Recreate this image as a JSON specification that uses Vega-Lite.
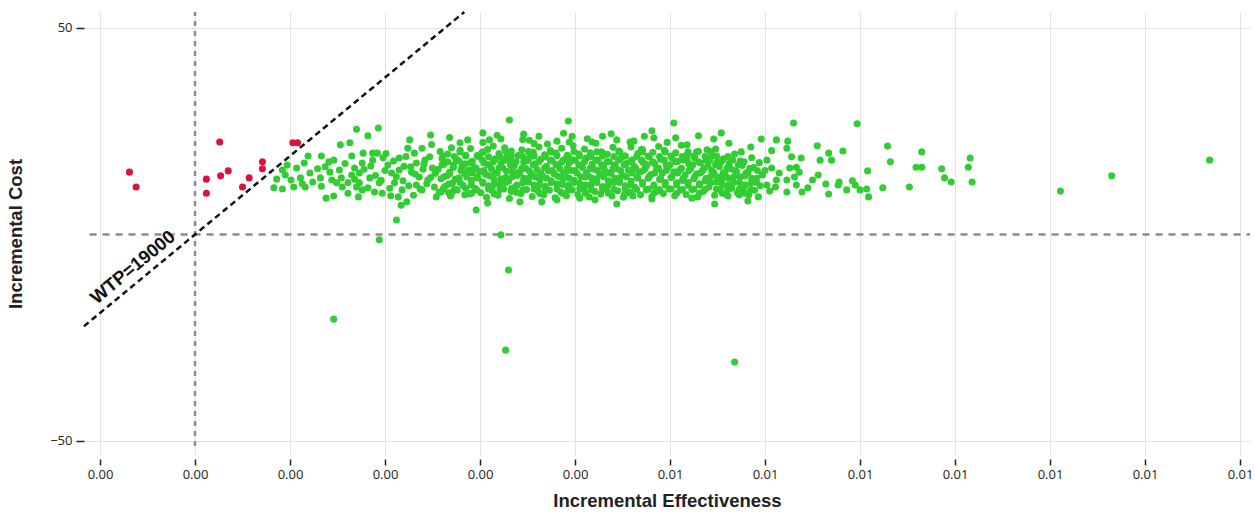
{
  "$schema": "https://vega.github.io/schema/vega-lite/v6.json",
  "width": 1166,
  "height": 443,
  "autosize": {"type": "none"},
  "padding": {"left": 84, "top": 12, "right": 5, "bottom": 60},
  "background": "white",
  "config": {"view": {"stroke": null}, "font": "Liberation Sans"},
  "datasets": {
    "ce": [
      {"e":0.00257,"c":10.2},{"e":0.00259,"c":13.5},{"e":0.00256,"c":15.8},{"e":0.0026,"c":18.4},{"e":0.00258,"c":20.1},
      {"e":0.00263,"c":11.6},{"e":0.00265,"c":14.2},{"e":0.00262,"c":17.0},{"e":0.00266,"c":19.5},
      {"e":0.00269,"c":9.3},{"e":0.00271,"c":12.4},{"e":0.00268,"c":15.1},{"e":0.00272,"c":16.9},{"e":0.0027,"c":21.0},
      {"e":0.00276,"c":10.8},{"e":0.00278,"c":13.7},{"e":0.00275,"c":18.2},{"e":0.00279,"c":20.4},
      {"e":0.00282,"c":11.9},{"e":0.00284,"c":14.8},{"e":0.00281,"c":16.4},{"e":0.00285,"c":19.0},
      {"e":0.00289,"c":9.8},{"e":0.00291,"c":13.1},{"e":0.00288,"c":15.6},{"e":0.00292,"c":17.7},{"e":0.0029,"c":20.8},
      {"e":0.00295,"c":11.2},{"e":0.00297,"c":14.0},{"e":0.00294,"c":16.3},{"e":0.00298,"c":18.9},
      {"e":0.00301,"c":10.1},{"e":0.00303,"c":12.7},{"e":0.003,"c":15.2},{"e":0.00304,"c":17.4},{"e":0.00302,"c":19.8},{"e":0.00303,"c":22.3},
      {"e":0.00307,"c":9.0},{"e":0.00309,"c":11.8},{"e":0.00306,"c":14.5},{"e":0.0031,"c":16.8},{"e":0.00308,"c":20.6},
      {"e":0.00313,"c":10.6},{"e":0.00315,"c":13.3},{"e":0.00312,"c":15.9},{"e":0.00316,"c":18.3},{"e":0.00314,"c":21.4},
      {"e":0.00319,"c":9.5},{"e":0.00321,"c":12.2},{"e":0.00318,"c":14.9},{"e":0.00322,"c":17.2},{"e":0.0032,"c":19.6},
      {"e":0.00325,"c":11.0},{"e":0.00327,"c":13.8},{"e":0.00324,"c":16.1},{"e":0.00328,"c":18.7},{"e":0.00326,"c":21.0},
      {"e":0.00331,"c":8.7},{"e":0.00333,"c":10.4},{"e":0.0033,"c":12.9},{"e":0.00334,"c":15.3},{"e":0.00332,"c":17.9},{"e":0.00333,"c":20.2},
      {"e":0.00337,"c":11.5},{"e":0.00339,"c":14.3},{"e":0.00336,"c":16.6},{"e":0.0034,"c":19.1},
      {"e":0.00343,"c":9.9},{"e":0.00345,"c":12.5},{"e":0.00342,"c":15.0},{"e":0.00346,"c":17.5},{"e":0.00344,"c":20.5},{"e":0.00345,"c":23.0},
      {"e":0.00349,"c":10.9},{"e":0.00351,"c":13.6},{"e":0.00348,"c":16.0},{"e":0.00352,"c":18.6},
      {"e":0.00355,"c":9.2},{"e":0.00357,"c":12.0},{"e":0.00354,"c":14.6},{"e":0.00358,"c":17.1},{"e":0.00356,"c":19.9},{"e":0.00357,"c":22.0},
      {"e":0.00361,"c":10.5},{"e":0.00363,"c":13.2},{"e":0.0036,"c":15.7},{"e":0.00364,"c":18.2},{"e":0.00362,"c":21.2},
      {"e":0.00367,"c":9.6},{"e":0.00369,"c":11.7},{"e":0.00366,"c":14.1},{"e":0.0037,"c":16.5},{"e":0.00368,"c":19.3},
      {"e":0.00373,"c":10.7},{"e":0.00375,"c":13.0},{"e":0.00372,"c":15.4},{"e":0.00376,"c":17.8},{"e":0.00374,"c":20.3},
      {"e":0.00379,"c":8.9},{"e":0.00381,"c":12.3},{"e":0.00378,"c":14.7},{"e":0.00382,"c":16.9},{"e":0.0038,"c":19.7},{"e":0.00381,"c":22.6},
      {"e":0.00385,"c":10.3},{"e":0.00387,"c":13.4},{"e":0.00384,"c":15.9},{"e":0.00388,"c":18.1},{"e":0.00386,"c":20.9},
      {"e":0.00391,"c":9.4},{"e":0.00393,"c":11.9},{"e":0.0039,"c":14.4},{"e":0.00394,"c":17.3},{"e":0.00392,"c":19.2},
      {"e":0.00397,"c":10.8},{"e":0.00399,"c":13.1},{"e":0.00396,"c":15.5},{"e":0.004,"c":17.9},{"e":0.00398,"c":21.5},
      {"e":0.00403,"c":9.7},{"e":0.00405,"c":12.4},{"e":0.00402,"c":14.9},{"e":0.00406,"c":16.7},{"e":0.00404,"c":19.5},
      {"e":0.00409,"c":11.1},{"e":0.00411,"c":13.9},{"e":0.00408,"c":16.2},{"e":0.00412,"c":18.5},{"e":0.0041,"c":20.7},
      {"e":0.00415,"c":9.1},{"e":0.00417,"c":12.1},{"e":0.00414,"c":14.2},{"e":0.00418,"c":17.0},{"e":0.00416,"c":19.8},
      {"e":0.00421,"c":10.4},{"e":0.00423,"c":13.5},{"e":0.0042,"c":15.8},{"e":0.00424,"c":18.0},{"e":0.00422,"c":22.1},
      {"e":0.00427,"c":9.8},{"e":0.00429,"c":11.6},{"e":0.00426,"c":14.6},{"e":0.0043,"c":16.4},{"e":0.00428,"c":20.0},
      {"e":0.00433,"c":10.9},{"e":0.00435,"c":13.0},{"e":0.00432,"c":15.3},{"e":0.00436,"c":17.6},{"e":0.00434,"c":19.4},
      {"e":0.00439,"c":9.3},{"e":0.00441,"c":12.6},{"e":0.00438,"c":14.8},{"e":0.00442,"c":16.9},{"e":0.0044,"c":21.1},
      {"e":0.00445,"c":10.6},{"e":0.00447,"c":13.7},{"e":0.00444,"c":15.9},{"e":0.00448,"c":18.4},{"e":0.00446,"c":20.2},
      {"e":0.00451,"c":9.0},{"e":0.00453,"c":11.8},{"e":0.0045,"c":14.3},{"e":0.00454,"c":17.2},{"e":0.00452,"c":19.0},
      {"e":0.00457,"c":10.2},{"e":0.00459,"c":12.9},{"e":0.00456,"c":15.6},{"e":0.0046,"c":18.0},{"e":0.00458,"c":22.4},
      {"e":0.00463,"c":11.4},{"e":0.00465,"c":14.0},{"e":0.00462,"c":16.5},{"e":0.00466,"c":19.6},
      {"e":0.00469,"c":9.6},{"e":0.00471,"c":12.2},{"e":0.00468,"c":15.1},{"e":0.00472,"c":17.4},{"e":0.0047,"c":20.6},
      {"e":0.00475,"c":10.8},{"e":0.00477,"c":13.6},{"e":0.00474,"c":16.0},{"e":0.00478,"c":18.8},
      {"e":0.00481,"c":9.2},{"e":0.00483,"c":11.7},{"e":0.0048,"c":14.5},{"e":0.00484,"c":17.1},{"e":0.00482,"c":19.9},
      {"e":0.00487,"c":10.5},{"e":0.00489,"c":13.3},{"e":0.00486,"c":15.8},{"e":0.0049,"c":18.2},{"e":0.00488,"c":21.3},
      {"e":0.00493,"c":9.9},{"e":0.00495,"c":12.0},{"e":0.00492,"c":14.9},{"e":0.00496,"c":16.8},{"e":0.00494,"c":20.4},
      {"e":0.00499,"c":11.0},{"e":0.00501,"c":13.8},{"e":0.00498,"c":16.3},{"e":0.00502,"c":18.6},
      {"e":0.00505,"c":9.4},{"e":0.00507,"c":12.5},{"e":0.00504,"c":15.2},{"e":0.00508,"c":17.7},{"e":0.00506,"c":19.8},
      {"e":0.00511,"c":10.7},{"e":0.00513,"c":13.1},{"e":0.0051,"c":15.6},{"e":0.00514,"c":18.1},{"e":0.00512,"c":21.6},
      {"e":0.00517,"c":9.7},{"e":0.00519,"c":11.9},{"e":0.00516,"c":14.4},{"e":0.0052,"c":17.0},{"e":0.00518,"c":19.3},
      {"e":0.00523,"c":10.9},{"e":0.00525,"c":13.5},{"e":0.00522,"c":16.1},{"e":0.00526,"c":18.5},
      {"e":0.00529,"c":9.1},{"e":0.00531,"c":12.3},{"e":0.00528,"c":14.7},{"e":0.00532,"c":17.3},{"e":0.0053,"c":20.1},
      {"e":0.00535,"c":10.4},{"e":0.00537,"c":13.0},{"e":0.00534,"c":15.4},{"e":0.00538,"c":17.9},
      {"e":0.00541,"c":11.5},{"e":0.00543,"c":14.1},{"e":0.0054,"c":16.6},{"e":0.00544,"c":19.0},
      {"e":0.00547,"c":9.5},{"e":0.00549,"c":12.7},{"e":0.00546,"c":15.0},{"e":0.0055,"c":17.6},{"e":0.00548,"c":20.7},
      {"e":0.00553,"c":10.8},{"e":0.00555,"c":13.4},{"e":0.00552,"c":16.4},{"e":0.00556,"c":18.3},
      {"e":0.00559,"c":9.8},{"e":0.00561,"c":12.0},{"e":0.00558,"c":14.6},{"e":0.00562,"c":17.2},
      {"e":0.00565,"c":11.2},{"e":0.00567,"c":13.9},{"e":0.00564,"c":15.9},{"e":0.00568,"c":19.5},
      {"e":0.00571,"c":10.1},{"e":0.00573,"c":12.6},{"e":0.0057,"c":15.3},{"e":0.00574,"c":17.8},
      {"e":0.00577,"c":11.0},{"e":0.00579,"c":14.2},{"e":0.00576,"c":16.7},
      {"e":0.00583,"c":9.6},{"e":0.00585,"c":12.4},{"e":0.00582,"c":15.0},{"e":0.00586,"c":18.6},
      {"e":0.00589,"c":10.7},{"e":0.00591,"c":13.6},{"e":0.00588,"c":16.2},
      {"e":0.00595,"c":11.8},{"e":0.00597,"c":14.5},{"e":0.00594,"c":17.4},
      {"e":0.00261,"c":11.0},{"e":0.00262,"c":14.0},{"e":0.0026,"c":16.9},{"e":0.00261,"c":19.0},
      {"e":0.00267,"c":12.2},{"e":0.00268,"c":14.7},{"e":0.00266,"c":17.6},{"e":0.00267,"c":10.1},
      {"e":0.00273,"c":10.9},{"e":0.00274,"c":13.4},{"e":0.00272,"c":16.2},{"e":0.00273,"c":18.9},
      {"e":0.00279,"c":12.6},{"e":0.0028,"c":15.5},{"e":0.00278,"c":17.8},{"e":0.00279,"c":20.0},
      {"e":0.00285,"c":11.2},{"e":0.00286,"c":13.9},{"e":0.00284,"c":17.1},{"e":0.00285,"c":19.2},
      {"e":0.00291,"c":12.0},{"e":0.00292,"c":14.9},{"e":0.0029,"c":17.4},{"e":0.00291,"c":10.0},
      {"e":0.00297,"c":10.7},{"e":0.00298,"c":13.6},{"e":0.00296,"c":16.0},{"e":0.00297,"c":19.1},
      {"e":0.00303,"c":12.4},{"e":0.00304,"c":15.5},{"e":0.00302,"c":18.1},{"e":0.00303,"c":20.0},
      {"e":0.00309,"c":11.0},{"e":0.0031,"c":14.2},{"e":0.00308,"c":16.9},{"e":0.00309,"c":18.8},
      {"e":0.00315,"c":12.1},{"e":0.00316,"c":14.9},{"e":0.00314,"c":17.6},{"e":0.00315,"c":9.8},
      {"e":0.00321,"c":10.9},{"e":0.00322,"c":13.5},{"e":0.0032,"c":16.1},{"e":0.00321,"c":18.9},
      {"e":0.00327,"c":12.6},{"e":0.00328,"c":15.3},{"e":0.00326,"c":18.0},{"e":0.00327,"c":20.2},
      {"e":0.00333,"c":11.1},{"e":0.00334,"c":14.0},{"e":0.00332,"c":16.8},{"e":0.00333,"c":19.0},
      {"e":0.00339,"c":12.0},{"e":0.0034,"c":15.0},{"e":0.00338,"c":17.6},{"e":0.00339,"c":10.1},
      {"e":0.00345,"c":10.8},{"e":0.00346,"c":13.6},{"e":0.00344,"c":16.0},{"e":0.00345,"c":18.9},
      {"e":0.00351,"c":12.7},{"e":0.00352,"c":15.4},{"e":0.0035,"c":17.9},{"e":0.00351,"c":20.1},
      {"e":0.00357,"c":11.0},{"e":0.00358,"c":14.0},{"e":0.00356,"c":16.9},{"e":0.00357,"c":19.0},
      {"e":0.00363,"c":12.0},{"e":0.00364,"c":14.8},{"e":0.00362,"c":17.6},{"e":0.00363,"c":9.9},
      {"e":0.00369,"c":10.9},{"e":0.0037,"c":13.6},{"e":0.00368,"c":16.1},{"e":0.00369,"c":18.8},
      {"e":0.00375,"c":12.6},{"e":0.00376,"c":15.5},{"e":0.00374,"c":18.0},{"e":0.00375,"c":20.0},
      {"e":0.00381,"c":11.0},{"e":0.00382,"c":14.1},{"e":0.0038,"c":16.9},{"e":0.00381,"c":19.1},
      {"e":0.00387,"c":12.1},{"e":0.00388,"c":14.9},{"e":0.00386,"c":17.5},{"e":0.00387,"c":10.0},
      {"e":0.00393,"c":10.9},{"e":0.00394,"c":13.6},{"e":0.00392,"c":16.0},{"e":0.00393,"c":18.9},
      {"e":0.00399,"c":12.6},{"e":0.004,"c":15.5},{"e":0.00398,"c":18.1},{"e":0.00399,"c":20.1},
      {"e":0.00405,"c":11.1},{"e":0.00406,"c":14.0},{"e":0.00404,"c":16.9},{"e":0.00405,"c":19.0},
      {"e":0.00411,"c":12.0},{"e":0.00412,"c":14.9},{"e":0.0041,"c":17.6},{"e":0.00411,"c":10.0},
      {"e":0.00417,"c":10.9},{"e":0.00418,"c":13.6},{"e":0.00416,"c":16.0},{"e":0.00417,"c":18.9},
      {"e":0.00423,"c":12.6},{"e":0.00424,"c":15.5},{"e":0.00422,"c":18.0},{"e":0.00423,"c":20.0},
      {"e":0.00429,"c":11.0},{"e":0.0043,"c":14.0},{"e":0.00428,"c":16.9},{"e":0.00429,"c":19.0},
      {"e":0.00435,"c":12.0},{"e":0.00436,"c":14.9},{"e":0.00434,"c":17.6},{"e":0.00435,"c":10.0},
      {"e":0.00441,"c":10.9},{"e":0.00442,"c":13.6},{"e":0.0044,"c":16.0},{"e":0.00441,"c":18.9},
      {"e":0.00447,"c":12.6},{"e":0.00448,"c":15.5},{"e":0.00446,"c":18.0},{"e":0.00447,"c":20.0},
      {"e":0.00453,"c":11.0},{"e":0.00454,"c":14.0},{"e":0.00452,"c":16.9},{"e":0.00453,"c":19.0},
      {"e":0.00459,"c":12.0},{"e":0.0046,"c":14.9},{"e":0.00458,"c":17.6},{"e":0.00459,"c":10.0},
      {"e":0.00465,"c":10.9},{"e":0.00466,"c":13.6},{"e":0.00464,"c":16.0},{"e":0.00465,"c":18.9},
      {"e":0.00471,"c":12.6},{"e":0.00472,"c":15.5},{"e":0.0047,"c":18.0},{"e":0.00471,"c":20.0},
      {"e":0.00477,"c":11.0},{"e":0.00478,"c":14.0},{"e":0.00476,"c":16.9},{"e":0.00477,"c":19.0},
      {"e":0.00483,"c":12.0},{"e":0.00484,"c":14.9},{"e":0.00482,"c":17.6},{"e":0.00483,"c":10.0},
      {"e":0.00489,"c":10.9},{"e":0.0049,"c":13.6},{"e":0.00488,"c":16.0},{"e":0.00489,"c":18.9},
      {"e":0.00495,"c":12.6},{"e":0.00496,"c":15.5},{"e":0.00494,"c":18.0},{"e":0.00495,"c":20.0},
      {"e":0.00501,"c":11.0},{"e":0.00502,"c":14.0},{"e":0.005,"c":16.9},{"e":0.00501,"c":19.0},
      {"e":0.00507,"c":12.0},{"e":0.00508,"c":14.9},{"e":0.00506,"c":17.6},{"e":0.00507,"c":10.0},
      {"e":0.00513,"c":10.9},{"e":0.00514,"c":13.6},{"e":0.00512,"c":16.0},{"e":0.00513,"c":18.9},
      {"e":0.00519,"c":12.6},{"e":0.0052,"c":15.5},{"e":0.00518,"c":18.0},{"e":0.00519,"c":20.0},
      {"e":0.00525,"c":11.0},{"e":0.00526,"c":14.0},{"e":0.00524,"c":16.9},{"e":0.00525,"c":19.0},
      {"e":0.00531,"c":12.0},{"e":0.00532,"c":14.9},{"e":0.0053,"c":17.6},{"e":0.00531,"c":10.0},
      {"e":0.00537,"c":10.9},{"e":0.00538,"c":13.6},{"e":0.00536,"c":16.0},{"e":0.00537,"c":18.9},
      {"e":0.00543,"c":12.6},{"e":0.00544,"c":15.5},{"e":0.00542,"c":18.0},{"e":0.00543,"c":20.0},
      {"e":0.00549,"c":11.0},{"e":0.0055,"c":14.0},{"e":0.00548,"c":16.9},{"e":0.00549,"c":19.0},
      {"e":0.00555,"c":12.0},{"e":0.00556,"c":14.9},{"e":0.00554,"c":17.6},{"e":0.00555,"c":10.0},
      {"e":0.00561,"c":10.9},{"e":0.00562,"c":13.6},{"e":0.0056,"c":16.0},{"e":0.00561,"c":18.9},
      {"e":0.00567,"c":12.6},{"e":0.00568,"c":15.5},{"e":0.00566,"c":18.0},
      {"e":0.00573,"c":11.0},{"e":0.00574,"c":14.0},{"e":0.00572,"c":16.9},
      {"e":0.00579,"c":12.0},{"e":0.0058,"c":14.9},{"e":0.00578,"c":17.6},{"e":0.00579,"c":10.0},
      {"e":0.00585,"c":10.9},{"e":0.00586,"c":13.6},{"e":0.00584,"c":16.0},
      {"e":0.00591,"c":12.6},{"e":0.00592,"c":15.5},
      {"e":0.00158,"c":17.2},{"e":0.00165,"c":19.0},{"e":0.0017,"c":11.5},{"e":0.00178,"c":15.8},{"e":0.00185,"c":16.6},
      {"e":0.0019,"c":14.3},{"e":0.00196,"c":13.1},{"e":0.00201,"c":19.6},{"e":0.00206,"c":9.4},{"e":0.00209,"c":17.8},
      {"e":0.00215,"c":15.6},{"e":0.00219,"c":13.0},{"e":0.00222,"c":18.9},{"e":0.00227,"c":16.4},{"e":0.00232,"c":14.6},
      {"e":0.00237,"c":11.0},{"e":0.00241,"c":17.0},{"e":0.00244,"c":12.3},{"e":0.00249,"c":21.8},{"e":0.00253,"c":14.8},
      {"e":0.00129,"c":15.9},{"e":0.00137,"c":16.4},{"e":0.00107,"c":16.1},{"e":0.00113,"c":12.3},{"e":0.00161,"c":12.6},
      {"e":0.00168,"c":13.4},
      {"e":0.00268,"c":23.5},{"e":0.00318,"c":24.0},{"e":0.00352,"c":22.8},{"e":0.00388,"c":24.5},{"e":0.00413,"c":23.2},
      {"e":0.00438,"c":24.4},{"e":0.00462,"c":22.6},{"e":0.00497,"c":22.3},{"e":0.0053,"c":23.9},{"e":0.00562,"c":22.1},
      {"e":0.00585,"c":21.2},{"e":0.00607,"c":20.3},{"e":0.00655,"c":21.5},
      {"e":0.0017,"c":25.5},{"e":0.00182,"c":23.9},{"e":0.00193,"c":25.8},{"e":0.00153,"c":21.7},{"e":0.00163,"c":22.2},
      {"e":0.00119,"c":19.0},{"e":0.00133,"c":19.0},{"e":0.00115,"c":17.3},{"e":0.00097,"c":16.8},{"e":0.00092,"c":15.6},
      {"e":0.00095,"c":14.4},{"e":0.00101,"c":13.2},{"e":0.00086,"c":13.4},{"e":0.00083,"c":11.3},{"e":0.00092,"c":11.0},
      {"e":0.00104,"c":11.5},{"e":0.00111,"c":13.7},{"e":0.00116,"c":11.5},{"e":0.00121,"c":14.9},{"e":0.00124,"c":12.7},
      {"e":0.00132,"c":13.7},{"e":0.00133,"c":11.7},{"e":0.00141,"c":17.6},{"e":0.00146,"c":18.0},{"e":0.00142,"c":15.1},
      {"e":0.00144,"c":13.2},{"e":0.00152,"c":15.6},{"e":0.00154,"c":13.7},{"e":0.00149,"c":12.5},{"e":0.00155,"c":11.5},
      {"e":0.00161,"c":10.0},{"e":0.00138,"c":8.8},{"e":0.00146,"c":9.3},{"e":0.00165,"c":14.4},{"e":0.00168,"c":16.1},
      {"e":0.00173,"c":14.9},{"e":0.00176,"c":17.3},{"e":0.00177,"c":19.7},{"e":0.00187,"c":19.7},{"e":0.00192,"c":19.7},
      {"e":0.00187,"c":18.0},{"e":0.00173,"c":12.5},{"e":0.00176,"c":10.8},{"e":0.00172,"c":9.1},{"e":0.00184,"c":13.7},
      {"e":0.00182,"c":11.3},{"e":0.00189,"c":10.3},{"e":0.00194,"c":12.5},{"e":0.00197,"c":10.0},{"e":0.00203,"c":16.8},
      {"e":0.00207,"c":14.9},{"e":0.0021,"c":12.5},{"e":0.00215,"c":18.5},{"e":0.00214,"c":9.1},{"e":0.00218,"c":10.8},
      {"e":0.00223,"c":7.9},{"e":0.00217,"c":7.1},{"e":0.00226,"c":22.9},{"e":0.00224,"c":20.9},{"e":0.00231,"c":19.7},
      {"e":0.00233,"c":17.3},{"e":0.00228,"c":15.1},{"e":0.00236,"c":13.9},{"e":0.00233,"c":12.0},{"e":0.00239,"c":10.8},
      {"e":0.00248,"c":24.1},{"e":0.00239,"c":20.9},{"e":0.00247,"c":18.8},{"e":0.0025,"c":16.1},{"e":0.00245,"c":13.2},
      {"e":0.00252,"c":11.5},{"e":0.00254,"c":9.1},{"e":0.002,"c":15.5},{"e":0.00212,"c":14.0},{"e":0.0022,"c":16.5},
      {"e":0.00225,"c":11.8},{"e":0.0024,"c":15.8},{"e":0.00242,"c":18.0},{"e":0.00248,"c":13.8},{"e":0.0023,"c":9.5},
      {"e":0.00205,"c":11.2},{"e":0.00198,"c":18.6},
      {"e":0.00331,"c":27.7},{"e":0.00393,"c":27.5},{"e":0.00303,"c":24.6},{"e":0.00346,"c":24.3},{"e":0.00362,"c":23.8},
      {"e":0.00397,"c":23.8},{"e":0.00429,"c":23.8},{"e":0.00371,"c":21.9},{"e":0.00394,"c":22.4},{"e":0.00322,"c":23.1},
      {"e":0.0031,"c":22.9},{"e":0.00279,"c":22.2},{"e":0.00287,"c":22.9},{"e":0.00418,"c":22.4},{"e":0.00444,"c":22.9},
      {"e":0.00296,"c":5.9},{"e":0.00365,"c":7.9},{"e":0.00342,"c":7.9},{"e":0.00308,"c":7.6},{"e":0.00381,"c":8.4},
      {"e":0.00405,"c":8.8},{"e":0.00421,"c":8.4},{"e":0.00444,"c":7.4},{"e":0.00284,"c":9.6},{"e":0.00271,"c":10.3},
      {"e":0.00259,"c":10.3},
      {"e":0.00504,"c":27.0},{"e":0.00554,"c":24.6},{"e":0.00481,"c":25.1},{"e":0.00473,"c":23.8},{"e":0.00483,"c":23.4},
      {"e":0.00506,"c":23.4},{"e":0.00546,"c":23.1},{"e":0.00596,"c":23.1},{"e":0.00612,"c":22.9},{"e":0.00624,"c":22.6},
      {"e":0.0063,"c":27.0},{"e":0.00459,"c":21.2},{"e":0.00518,"c":21.7},{"e":0.00575,"c":20.0},{"e":0.00623,"c":20.9},
      {"e":0.00628,"c":18.8},{"e":0.00471,"c":20.5},{"e":0.00528,"c":20.0},{"e":0.00539,"c":20.5},
      {"e":0.00547,"c":7.4},{"e":0.00561,"c":9.3},{"e":0.00582,"c":8.1},{"e":0.00593,"c":9.1},{"e":0.00611,"c":11.5},
      {"e":0.00623,"c":10.3},{"e":0.00633,"c":12.0},{"e":0.00573,"c":9.6},{"e":0.00481,"c":8.6},{"e":0.00523,"c":8.8},
      {"e":0.00461,"c":9.3},{"e":0.00452,"c":9.6},
      {"e":0.00602,"c":18.0},{"e":0.00607,"c":16.1},{"e":0.00615,"c":14.9},{"e":0.00612,"c":13.2},{"e":0.00602,"c":12.0},
      {"e":0.00626,"c":16.1},{"e":0.00631,"c":13.9},{"e":0.00633,"c":16.3},{"e":0.00623,"c":13.2},{"e":0.00597,"c":14.4},
      {"e":0.006,"c":15.5},{"e":0.00605,"c":10.5},
      {"e":0.00697,"c":26.8},{"e":0.00729,"c":21.4},{"e":0.00765,"c":20.0},{"e":0.00816,"c":18.5},{"e":0.00682,"c":20.2},
      {"e":0.00667,"c":19.7},{"e":0.0067,"c":18.0},{"e":0.00658,"c":18.0},{"e":0.00638,"c":18.5},{"e":0.00732,"c":17.6},
      {"e":0.00759,"c":16.3},{"e":0.00765,"c":16.3},{"e":0.00786,"c":15.9},{"e":0.00814,"c":16.3},{"e":0.00708,"c":15.4},
      {"e":0.00636,"c":15.1},{"e":0.00656,"c":14.4},{"e":0.0065,"c":13.2},{"e":0.00664,"c":12.2},{"e":0.00678,"c":12.7},
      {"e":0.00677,"c":12.0},{"e":0.00692,"c":13.0},{"e":0.00695,"c":12.0},{"e":0.00686,"c":10.8},{"e":0.007,"c":10.8},
      {"e":0.00707,"c":11.0},{"e":0.00709,"c":9.1},{"e":0.00667,"c":9.8},{"e":0.00645,"c":11.3},{"e":0.00639,"c":10.3},
      {"e":0.00724,"c":11.3},{"e":0.00752,"c":11.5},{"e":0.00789,"c":13.7},{"e":0.00796,"c":12.7},{"e":0.00818,"c":12.7},
      {"e":0.01068,"c":18.0},{"e":0.00965,"c":14.2},{"e":0.00911,"c":10.5},
      {"e":0.00212,"c":3.5},{"e":0.00194,"c":-1.3},{"e":0.00322,"c":-0.1},{"e":0.0033,"c":-8.6},{"e":0.00146,"c":-20.5},
      {"e":0.00327,"c":-28.0},{"e":0.00568,"c":-30.9}
    ],
    "nce": [
      {"e":-0.00069,"c":15.1},{"e":-0.00062,"c":11.5},{"e":0.00026,"c":22.4},{"e":0.00012,"c":13.4},{"e":0.00012,"c":10.0},
      {"e":0.00027,"c":14.2},{"e":0.00035,"c":15.4},{"e":0.0005,"c":11.5},{"e":0.00057,"c":13.7},{"e":0.00071,"c":17.6},
      {"e":0.00071,"c":15.9},{"e":0.00103,"c":22.2},{"e":0.00108,"c":22.2}
    ],
    "wtp": [
      {"e":-0.0011684,"c":-22.2},
      {"e":0.002835,"c":53.87}
    ],
    "vref": [
      {"e":0,"c":-51.2,"c2":53.87}
    ],
    "href": [
      {"e":-0.00111,"e2":0.0111053,"c":0}
    ],
    "lbl": [
      {"e":-0.000655,"c":-7.9,"t":"WTP=19000"}
    ]
  },
  "layer": [
    {
      "data": {"name": "vref"},
      "mark": {"type": "rule", "color": "#8c8c8c", "strokeWidth": 2.5, "strokeDash": [5, 5]},
      "encoding": {
        "x": {
          "field": "e", "type": "quantitative",
          "scale": {"domain": [-0.0011684, 0.0111053], "nice": false, "zero": false},
          "axis": {
            "values": [-0.001, 0, 0.001, 0.002, 0.003, 0.004, 0.005, 0.006, 0.007, 0.008, 0.009, 0.01, 0.011],
            "format": ".2f",
            "title": "Incremental Effectiveness",
            "domain": false,
            "offset": 4,
            "tickSize": 6,
            "tickColor": "#222222",
            "tickWidth": 1.5,
            "labelFont": "Open Sans",
            "labelFontSize": 13,
            "labelColor": "#222222",
            "labelPadding": 3,
            "grid": true,
            "gridColor": "#e3e3e3",
            "gridWidth": 1,
            "titleFont": "Liberation Sans",
            "titleFontSize": 18.5,
            "titleFontWeight": "bold",
            "titleColor": "#222222",
            "titlePadding": 10
          }
        },
        "y": {
          "field": "c", "type": "quantitative",
          "scale": {"domain": [-53.39, 53.87], "nice": false, "zero": false},
          "axis": {
            "values": [-50, 50],
            "format": "d",
            "title": "Incremental Cost",
            "domain": false,
            "tickSize": 8,
            "tickColor": "#222222",
            "tickWidth": 1.5,
            "labelFont": "Open Sans",
            "labelFontSize": 13,
            "labelColor": "#222222",
            "labelPadding": 4,
            "grid": true,
            "gridColor": "#e3e3e3",
            "gridWidth": 1,
            "titleFont": "Liberation Sans",
            "titleFontSize": 18.5,
            "titleFontWeight": "bold",
            "titleColor": "#222222",
            "titlePadding": 24
          }
        },
        "y2": {"field": "c2"}
      }
    },
    {
      "data": {"name": "href"},
      "mark": {"type": "rule", "color": "#8c8c8c", "strokeWidth": 2.5, "strokeDash": [7, 6]},
      "encoding": {
        "x": {"field": "e", "type": "quantitative"},
        "x2": {"field": "e2"},
        "y": {"field": "c", "type": "quantitative"}
      }
    },
    {
      "data": {"name": "ce"},
      "mark": {"type": "circle", "size": 50, "opacity": 1, "color": "#32cd32"},
      "encoding": {
        "x": {"field": "e", "type": "quantitative"},
        "y": {"field": "c", "type": "quantitative"}
      }
    },
    {
      "data": {"name": "nce"},
      "mark": {"type": "circle", "size": 50, "opacity": 1, "color": "#dc143c"},
      "encoding": {
        "x": {"field": "e", "type": "quantitative"},
        "y": {"field": "c", "type": "quantitative"}
      }
    },
    {
      "data": {"name": "wtp"},
      "mark": {"type": "line", "color": "#111111", "strokeWidth": 2.5, "strokeDash": [6, 4]},
      "encoding": {
        "x": {"field": "e", "type": "quantitative"},
        "y": {"field": "c", "type": "quantitative"}
      }
    },
    {
      "data": {"name": "lbl"},
      "mark": {"type": "text", "angle": 320.4, "font": "Liberation Sans", "fontWeight": "bold", "fontSize": 18.5, "color": "#111111", "align": "center", "baseline": "middle"},
      "encoding": {
        "x": {"field": "e", "type": "quantitative"},
        "y": {"field": "c", "type": "quantitative"},
        "text": {"field": "t"}
      }
    },
    {
      "mark": {"type": "rule", "color": "#222222", "strokeWidth": 1.5},
      "encoding": {"x": {"datum": -0.0011684}, "y": {"datum": -50}, "y2": {"datum": 50}}
    },
    {
      "mark": {"type": "rule", "color": "#222222", "strokeWidth": 1.5},
      "encoding": {"x": {"datum": -0.001}, "x2": {"datum": 0.011}, "y": {"datum": -54.36}}
    }
  ]
}
